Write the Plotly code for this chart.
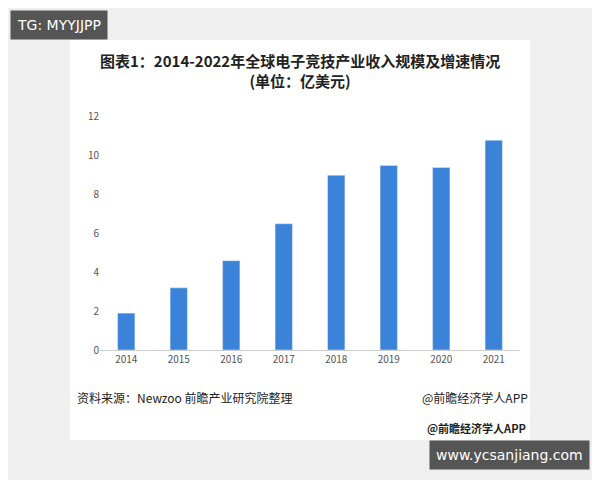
import plotly.graph_objects as go

years = ["2014", "2015", "2016", "2017", "2018", "2019", "2020", "2021"]
revenue = [1.9, 3.2, 4.6, 6.5, 9.0, 9.5, 9.4, 10.8]
y_ticks = [0, 2, 4, 6, 8, 10, 12]

W, H = 600, 480
OFF = 8  # page body margin
L, R, T, B = 92, 88, 107, 138
pw, ph = W - L - R, H - T - B

def px(x):
    return (x - OFF - L) / pw

def py(y):
    return (H - B - (y - OFF)) / ph

font = "Noto Sans CJK SC"

fig = go.Figure(go.Bar(x=years, y=revenue, marker_color="#3b82d9", width=0.33))

fig.update_layout(
    width=W, height=H,
    margin=dict(l=L, r=R, t=T, b=B),
    paper_bgcolor="#efefef", plot_bgcolor="white",
    font=dict(family=font, size=10, color="#555"),
    showlegend=False,
    xaxis=dict(showgrid=False, showline=True, linecolor="#ccc", ticks=""),
    yaxis=dict(range=[0, 12.1], tickvals=y_ticks, showgrid=False, zeroline=False, ticks=""),
    shapes=[dict(type="rect", xref="paper", yref="paper", layer="below",
                 x0=px(70), x1=px(530), y0=py(440), y1=py(40),
                 fillcolor="white", line_width=0)],
)

fig.add_annotation(xref="paper", yref="paper", x=px(300), y=py(48), showarrow=False,
                   text="<b>图表1：2014-2022年全球电子竞技产业收入规模及增速情况<br>(单位：亿美元)</b>",
                   font=dict(size=15, color="#222", family=font), align="center")
fig.add_annotation(xref="paper", yref="paper", x=px(75), y=py(408), xanchor="left", showarrow=False,
                   text="资料来源：Newzoo 前瞻产业研究院整理", font=dict(size=12, color="#222"))
fig.add_annotation(xref="paper", yref="paper", x=px(530), y=py(408), xanchor="right", showarrow=False,
                   text="@前瞻经济学人APP", font=dict(size=12, color="#222"))
fig.add_annotation(xref="paper", yref="paper", x=px(528), y=py(438), xanchor="right", showarrow=False,
                   text="<b>@前瞻经济学人APP</b>", font=dict(size=11, color="#222"))
fig.add_annotation(xref="paper", yref="paper", x=px(10), y=py(10), xanchor="left", showarrow=False,
                   text="TG: MYYJJPP", bgcolor="#555", borderpad=6,
                   font=dict(size=14, color="white", family="DejaVu Sans"))
fig.add_annotation(xref="paper", yref="paper", x=px(590), y=py(470), xanchor="right", showarrow=False,
                   text="www.ycsanjiang.com", bgcolor="#555", borderpad=6,
                   font=dict(size=14, color="white", family="DejaVu Sans"))

fig.write_html("out.html")
